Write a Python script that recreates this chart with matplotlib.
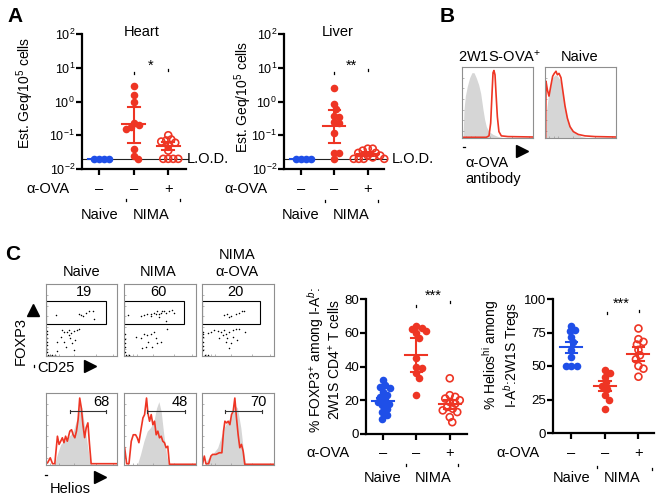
import matplotlib
matplotlib.use('Agg')
import matplotlib.pyplot as plt
import numpy as np
from matplotlib.lines import Line2D
from matplotlib.patches import Rectangle
from matplotlib.transforms import blended_transform_factory
from matplotlib.ticker import NullLocator, LogFormatterMathtext

plt.rcParams['font.family'] = ['Liberation Sans', 'DejaVu Sans']
plt.rcParams['mathtext.fontset'] = 'custom'
plt.rcParams['mathtext.rm'] = 'Liberation Sans'
plt.rcParams['mathtext.it'] = 'Liberation Sans:italic'
plt.rcParams['mathtext.bf'] = 'Liberation Sans:bold'

# ---------------- data ----------------
groups = ['Naive', 'NIMA', 'NIMA']
anti_ova = ['–', '–', '+']

heart_naive = [0.02, 0.02, 0.02, 0.02]
heart_nima = [2.9, 1.55, 1.0, 0.23, 0.2, 0.17, 0.15, 0.04, 0.025, 0.02]
heart_ova = [0.1, 0.075, 0.07, 0.065, 0.06, 0.05, 0.035, 0.02, 0.02, 0.02, 0.02]
heart_mean = [0.02, 0.21, 0.048]
heart_lo = [0.02, 0.06, 0.037]
heart_hi = [0.02, 0.68, 0.062]

liver_naive = [0.02, 0.02, 0.02, 0.02]
liver_nima = [2.5, 0.83, 0.6, 0.36, 0.34, 0.24, 0.23, 0.12, 0.03, 0.03, 0.02]
liver_ova = [0.04, 0.04, 0.035, 0.03, 0.03, 0.025, 0.025, 0.022, 0.02, 0.02, 0.02, 0.02]
liver_mean = [0.02, 0.19, 0.027]
liver_lo = [0.02, 0.06, 0.024]
liver_hi = [0.02, 0.56, 0.031]
lod = 0.02

foxp3_naive = [32, 29, 28, 27, 25, 23, 22, 20, 19, 18, 17, 15, 13, 11, 9]
foxp3_nima = [64, 63, 62, 61, 60, 57, 45, 40, 39, 36, 33, 23]
foxp3_ova = [33, 23, 22, 21, 20, 19, 18, 16, 15, 14, 13, 10, 7]
foxp3_mean = [19.5, 47, 17.5]
foxp3_lo = [17.5, 37, 15]
foxp3_hi = [21.5, 57, 20]

helios_naive = [80, 77, 76, 72, 68, 62, 57, 50, 50, 50]
helios_nima = [47, 45, 42, 38, 35, 33, 28, 25, 18]
helios_ova = [78, 70, 68, 66, 62, 58, 55, 50, 48, 42]
helios_mean = [64, 35, 59]
helios_lo = [60, 31, 54]
helios_hi = [68, 39, 64]

# Panel B histograms (channel 0-100, normalized count 0-100)
b1_grey_x = [1.4, 2.8, 4.7, 7.5, 10.8, 14, 16.9, 20, 23.5, 26.3, 29.6, 31.9, 34.3, 38, 43.7, 50.7, 60]
b1_grey_y = [0, 40, 59, 73, 85, 92, 92, 85, 75, 63, 40, 26, 16, 9, 5, 2, 0]
b1_red_x = [0, 34.3, 38, 40.4, 42.3, 43.7, 45, 46.5, 47.9, 49.8, 52, 55.4, 64.8, 100]
b1_red_y = [1, 1, 3, 21, 63, 92, 95, 89, 63, 30, 9, 3, 2, 1.4]
b2_grey_x = [0.9, 2.3, 4.7, 8, 10.8, 14, 17.8, 21.1, 24.4, 28.2, 31.9, 36.6, 42.3, 51.6, 61]
b2_grey_y = [0, 40, 59, 73, 85, 89, 87, 82, 66, 42, 26, 14, 7, 2, 0]
b2_red_x = [0.9, 1.4, 3.3, 5.6, 8.5, 10.8, 13.1, 15.5, 17.4, 19.7, 22.5, 24.9, 28.2, 31.5, 35.2, 39.9, 46.9, 56.3, 70.4, 100]
b2_red_y = [1, 80, 68, 59, 75, 87, 91, 94, 89, 91, 85, 68, 45, 28, 16, 9, 5, 3, 2, 1.4]

# Panel C FOXP3 vs CD25 dot plots (channel 0-100)
gate_pct = ['19', '60', '20']
dots1_x = [13.8, 46, 49, 52, 57, 61, 66, 67, 23, 25, 29, 32, 35, 39, 43, 46, 26, 34, 37, 15, 39, 16, 28, 41, 32, 21,
           1, 1, 1, 1, 1, 1, 1, 3, 6, 9, 13]
dots1_y = [57, 59, 57, 55, 60, 62, 63, 51, 36, 34, 34, 36, 32, 35, 36, 37, 20, 25, 18, 20, 8, 7, 13, 22, 29, 27,
           5, 10, 15, 20, 25, 30, 35, 1, 1, 1, 1]
dots2_x = [5.5, 23, 28, 32, 37, 41, 44, 46, 48, 51, 53, 56, 59, 62, 67, 69, 37, 48, 16, 23, 28, 32, 37, 41, 45, 46,
           34, 30, 39, 25, 60, 59, 51, 1, 1, 1, 1, 1, 3, 7]
dots2_y = [57, 55, 57, 59, 58, 60, 59, 62, 59, 60, 62, 63, 60, 62, 64, 60, 55, 54, 27, 25, 31, 29, 31, 34, 25, 18,
           20, 13, 13, 11, 38, 48, 20, 6, 12, 18, 24, 30, 1, 1]
dots3_x = [31, 35, 40, 47, 51, 55, 59, 38, 8, 12, 17, 22, 26, 31, 33, 38, 43, 47, 52, 43, 35, 29, 33, 40, 37, 49, 60, 24,
           1, 1, 1, 1, 1, 1, 4, 8]
dots3_y = [57, 59, 56, 59, 60, 62, 63, 54, 32, 34, 36, 35, 34, 36, 31, 34, 36, 37, 38, 27, 25, 29, 20, 18, 11, 22, 34, 25,
           8, 14, 20, 26, 30, 34, 1, 1]

# Panel C Helios histograms (channel 0-100, count 0-100)
helios_pct = ['68', '48', '70']
h1_red_x = [0, 2.3, 6, 9.2, 12.4, 16.1, 18.4, 20.7, 23, 25.3, 27.6, 30, 33.6, 36, 38.2, 40.6, 42.9, 45.2, 47.5, 49.8,
            52, 54.4, 56.7, 59, 61.3, 63.6, 100]
h1_red_y = [1.8, 3.2, 10, 1.8, 1.8, 40, 28.6, 33, 37.8, 31, 40, 33, 47, 49, 42, 37.8, 47, 63, 93, 79,
            56, 38, 52, 58.5, 28.6, 1.8, 1.8]
h1_grey_x = [11.5, 16, 20.7, 25, 30, 34.6, 39, 43.8, 47.5, 50.7, 54, 57.6, 61.3, 64.5]
h1_grey_y = [0, 15, 28.6, 33, 38, 42, 49, 65, 86, 79, 56, 33, 8, 0]
h2_red_x = [0.9, 3.7, 6.9, 10.1, 12.9, 16.1, 18.4, 20.7, 24, 26.3, 28.6, 31.3, 33.2, 35.5, 37.8, 40.1, 42.4, 44.7,
            47, 49.3, 51.6, 53.9, 56.2, 58.5, 60.8, 63.1, 100]
h2_red_y = [24, 1.8, 1.8, 33, 42, 42, 37.8, 31, 51.6, 65.4, 70, 93, 72, 60.8, 70, 56, 60.8, 42,
            47, 37.8, 40, 33, 31, 24, 26, 1, 1]
h2_grey_x = [18.4, 23, 27.6, 32.3, 36.9, 41.5, 45.2, 48.4, 51.6, 55.3, 59, 62.2]
h2_grey_y = [0, 15, 33, 47, 52, 61, 79, 88, 74.6, 42, 15, 0]
h3_red_x = [0.9, 3.2, 5.5, 9.2, 12.4, 14.7, 19.4, 24, 27.6, 29.9, 31.8, 34.1, 36.4, 38.7, 41, 43.3, 45.6, 47.9,
            50.2, 52.5, 54.8, 57.1, 59.4, 100]
h3_red_y = [1.8, 12.4, 1.8, 1.8, 12.4, 14.7, 14.7, 17, 17, 47, 60.8, 58.5, 60.8, 56, 70, 74.6, 93, 65.4,
            42, 24, 28.6, 19.4, 1, 1]
h3_grey_x = [3.2, 7.8, 14.7, 21.7, 26.3, 30.9, 35.5, 40, 44.7, 49.3, 53.9, 57.1, 60.8]
h3_grey_y = [0, 8, 15, 24, 38, 52, 61, 65, 84, 79, 52, 24, 0]
helios_gate = [(33.6, 85), (32, 85), (32, 83)]

# ---------------- style ----------------
BLUE = '#1f4fe8'
RED = '#ee3524'
GREY = '#d6d6d6'
W, H = 663, 500
FS = 10.5
TFS = 9

fig = plt.figure(figsize=(W / 100, H / 100), dpi=100)


def px_axes(x0, y0, x1, y1):
    return fig.add_axes([x0 / W, 1 - y1 / H, (x1 - x0) / W, (y1 - y0) / H])


def ftext(x, y, s, **kw):
    kw.setdefault('fontsize', FS)
    kw.setdefault('ha', 'center')
    kw.setdefault('va', 'center')
    fig.text(x / W, 1 - y / H, s, **kw)


def fmark(x, y, marker, ms):
    fig.add_artist(Line2D([x / W], [1 - y / H], marker=marker, markersize=ms, color='black',
                          linestyle='none', transform=fig.transFigure))


def ftick(x, y, dx=0.0, dy=2.0, lw=0.9):
    fig.add_artist(Line2D([x / W, (x + dx) / W], [1 - y / H, 1 - (y + dy) / H], color='black',
                          lw=lw, transform=fig.transFigure))


def swarm_x(ax, xc, vals, dmin):
    pts = ax.transData.transform(np.column_stack([np.full(len(vals), float(xc)), np.asarray(vals, float)]))
    placed = []
    out = []
    for px, py in pts:
        best = None
        for k in range(0, 200):
            cands = [0.0] if k == 0 else [k * 0.5, -k * 0.5]
            for s in cands:
                cx = px + s
                if all((cx - qx) ** 2 + (py - qy) ** 2 >= dmin ** 2 for qx, qy in placed):
                    best = cx
                    break
            if best is not None:
                break
        placed.append((best, py))
        out.append(best)
    back = ax.transData.inverted().transform(np.column_stack([out, pts[:, 1]]))
    return back[:, 0]


def style_dot_axes(ax):
    for s in ['top', 'right']:
        ax.spines[s].set_visible(False)
    for s in ['left', 'bottom']:
        ax.spines[s].set_linewidth(1.6)
    ax.tick_params(axis='both', length=4, width=1.6, labelsize=TFS, pad=1)
    ax.set_xticks([0, 1, 2])
    ax.set_xticklabels([])
    ax.patch.set_alpha(0)


def draw_groups(ax, data, means, los, his, dmin):
    styles = [(BLUE, True), (RED, True), (RED, False)]
    for i, vals in enumerate(data):
        color, filled = styles[i]
        xs = swarm_x(ax, i, vals, dmin)
        if filled:
            ax.scatter(xs, vals, s=30, color=color, linewidths=0, zorder=3, clip_on=False)
        else:
            ax.scatter(xs, vals, s=25, facecolors='none', edgecolors=color, linewidths=1.2, zorder=3, clip_on=False)
        ax.plot([i - 0.33, i + 0.33], [means[i], means[i]], color=color, lw=1.5, zorder=4)
        if his[i] != los[i]:
            ax.plot([i, i], [los[i], his[i]], color=color, lw=1.5, zorder=4)
            for v in (los[i], his[i]):
                ax.plot([i - 0.17, i + 0.17], [v, v], color=color, lw=1.5, zorder=4)


def cond_rows(ax, y_row, y_grp):
    tr = blended_transform_factory(ax.transData, fig.transFigure)
    for i, s in enumerate(anti_ova):
        ax.text(i, 1 - y_row / H, s, transform=tr, ha='center', va='center', fontsize=FS)
    ax.text(0, 1 - y_grp / H, groups[0], transform=tr, ha='center', va='center', fontsize=FS)
    ax.text(1.5, 1 - y_grp / H, groups[1], transform=tr, ha='center', va='center', fontsize=FS)


def sig(ax, y, s):
    tr = blended_transform_factory(ax.transData, fig.transFigure)
    ax.text(1.5, 1 - y / H, s, transform=tr, ha='center', va='center', fontsize=FS)


# ---------------- Panel A ----------------
ftext(15, 17, 'A', fontsize=15, fontweight='bold')

for (x0, x1, title, tx, nv, nm, ov, mn, lo, hi, star, lodx, ylx, ylc, aox, marks, gmarks) in [
    (82, 185.5, 'Heart', 142, heart_naive, heart_nima, heart_ova, heart_mean, heart_lo, heart_hi, '*', 187, 25, 93, 48,
     [(134, 72), (168, 69)], [(126, 199), (180, 199)]),
    (284, 384.5, 'Liver', 338, liver_naive, liver_nima, liver_ova, liver_mean, liver_lo, liver_hi, '**', 392, 243, 97, 246,
     [(334, 72), (368, 69)], [(325, 200), (378, 200)]),
]:
    ax = px_axes(x0, 34, x1, 169)
    ax.set_yscale('log')
    ax.set_ylim(0.01, 100)
    ax.set_xlim(-0.5, 2.5)
    ax.set_yticks([0.01, 0.1, 1, 10, 100])
    ax.yaxis.set_major_formatter(LogFormatterMathtext())
    ax.yaxis.set_minor_locator(NullLocator())
    style_dot_axes(ax)
    ax.plot([-0.5, 2.58], [lod, lod], color='#222222', lw=0.8, zorder=1.5, clip_on=False)
    draw_groups(ax, [nv, nm, ov], mn, lo, hi, 5.0)
    ftext(tx, 32, title)
    ftext(lodx, 159, 'L.O.D.', ha='left')
    ftext(ylx, ylc, 'Est. Geq/10$^{5}$ cells', rotation=90, fontsize=10)
    ftext(aox, 189, 'α-OVA')
    cond_rows(ax, 189, 215)
    sig(ax, 66, star)
    for (mx, my) in marks:
        ftick(mx, my, 0, 1.5)
    for (mx, my) in gmarks:
        ftick(mx, my, 0, 1.5)

# ---------------- Panel B ----------------
ftext(447, 16, 'B', fontsize=15, fontweight='bold')


def flow_axes(x0, y0, x1, y1):
    ax = px_axes(x0, y0, x1, y1)
    ax.set_xlim(0, 100)
    ax.set_ylim(0, 100)
    for sp in ax.spines.values():
        sp.set_color('#8f8f8f')
        sp.set_linewidth(0.8)
    ax.set_xticks([6, 12, 18, 40, 70, 95])
    ax.set_yticks([10, 25, 40, 55, 70, 85])
    ax.tick_params(direction='in', length=1.5, width=0.5, colors='#9a9a9a', labelbottom=False, labelleft=False)
    return ax


axb1 = flow_axes(462, 67, 533, 138)
axb1.fill_between(b1_grey_x, b1_grey_y, color=GREY, lw=0)
axb1.plot(b1_red_x, b1_red_y, color=RED, lw=1.2)
axb2 = flow_axes(545, 67, 616, 138)
axb2.fill_between(b2_grey_x, b2_grey_y, color=GREY, lw=0)
axb2.plot(b2_red_x, b2_red_y, color=RED, lw=1.2)
ftext(500, 57, '2W1S-OVA$^{+}$')
ftext(580, 57, 'Naive')
ftext(465, 163, 'α-OVA', ha='left')
ftext(465, 179, 'antibody', ha='left')
fmark(522, 151, '>', 9)
ftick(463, 147, 2, 0)

# ---------------- Panel C flow ----------------
ftext(13, 254, 'C', fontsize=15, fontweight='bold')
cols = [(46, 117), (124, 196), (202, 274)]
ftext(82, 272, 'Naive')
ftext(158, 272, 'NIMA')
ftext(237, 255, 'NIMA')
ftext(237, 272, 'α-OVA')

dots = [(dots1_x, dots1_y), (dots2_x, dots2_y), (dots3_x, dots3_y)]
gate_w = [84, 84, 80]
for i, (x0, x1) in enumerate(cols):
    ax = flow_axes(x0, 284, x1, 356)
    ax.scatter(dots[i][0], dots[i][1], s=1.2, color='black', linewidths=0)
    ax.add_patch(Rectangle((0, 45), gate_w[i], 32, fill=False, ec='black', lw=0.8))
    ax.text([53, 48, 47][i], 89, gate_pct[i], ha='center', va='center', fontsize=FS)

ftext(21, 341, 'FOXP3', rotation=90)
fmark(33, 310, '^', 8.5)
ftext(56, 368, 'CD25')
fmark(90, 366, '>', 8.5)
ftick(34, 365, 0, 1.5)

hist = [(h1_grey_x, h1_grey_y, h1_red_x, h1_red_y), (h2_grey_x, h2_grey_y, h2_red_x, h2_red_y),
        (h3_grey_x, h3_grey_y, h3_red_x, h3_red_y)]
for i, (x0, x1) in enumerate(cols):
    ax = flow_axes(x0, 393, x1, 465)
    gx, gy, rx, ry = hist[i]
    ax.fill_between(gx, gy, color=GREY, lw=0)
    ax.plot(rx, ry, color=RED, lw=1.2)
    g0, g1 = helios_gate[i]
    ax.plot([g0, g1], [74.6, 74.6], color='#333333', lw=0.8)
    for g in (g0, g1):
        ax.plot([g, g], [72, 77], color='#333333', lw=0.8)
    ax.text(78, 88, helios_pct[i], ha='center', va='center', fontsize=FS)

ftext(70, 489, 'Helios')
fmark(100, 477, '>', 8.5)
ftick(45, 475, 2, 0)

# ---------------- Panel C dot plots ----------------
axc1 = px_axes(366, 299, 466.5, 434)
axc1.set_ylim(0, 80)
axc1.set_xlim(-0.5, 2.5)
axc1.set_yticks([0, 20, 40, 60, 80])
style_dot_axes(axc1)
axc1.tick_params(axis='y', labelsize=9.5)
draw_groups(axc1, [foxp3_naive, foxp3_nima, foxp3_ova], foxp3_mean, foxp3_lo, foxp3_hi, 5.5)
ftext(324, 360, '% FOXP3$^{+}$ among I-A$^{b}$:\n2W1S CD4$^{+}$ T cells', rotation=90, linespacing=1.0,
      fontsize=10)
ftext(328, 453, 'α-OVA')
cond_rows(axc1, 453, 478)
sig(axc1, 296, '***')
ftick(416, 305, 0, 1.5)
ftick(450, 301, 0, 1.5)
ftick(406, 464, 0, 1.5)
ftick(458, 464, 0, 1.5)

axc2 = px_axes(553, 299, 653.5, 433)
axc2.set_ylim(0, 100)
axc2.set_xlim(-0.55, 2.45)
axc2.set_yticks([0, 25, 50, 75, 100])
style_dot_axes(axc2)
axc2.tick_params(axis='y', labelsize=9.5)
draw_groups(axc2, [helios_naive, helios_nima, helios_ova], helios_mean, helios_lo, helios_hi, 5.5)
ftext(501, 355, '% Helios$^{\\mathrm{hi}}$ among\nI-A$^{b}$:2W1S Tregs', rotation=90, linespacing=1.0,
      fontsize=10)
ftext(518, 453, 'α-OVA')
cond_rows(axc2, 453, 478)
sig(axc2, 304, '***')
ftick(607, 312, 0, 1.5)
ftick(639, 310, 0, 1.5)
ftick(597, 466, 0, 1.5)
ftick(652, 468, 0, 1.5)

fig.savefig('out.png', dpi=100)
